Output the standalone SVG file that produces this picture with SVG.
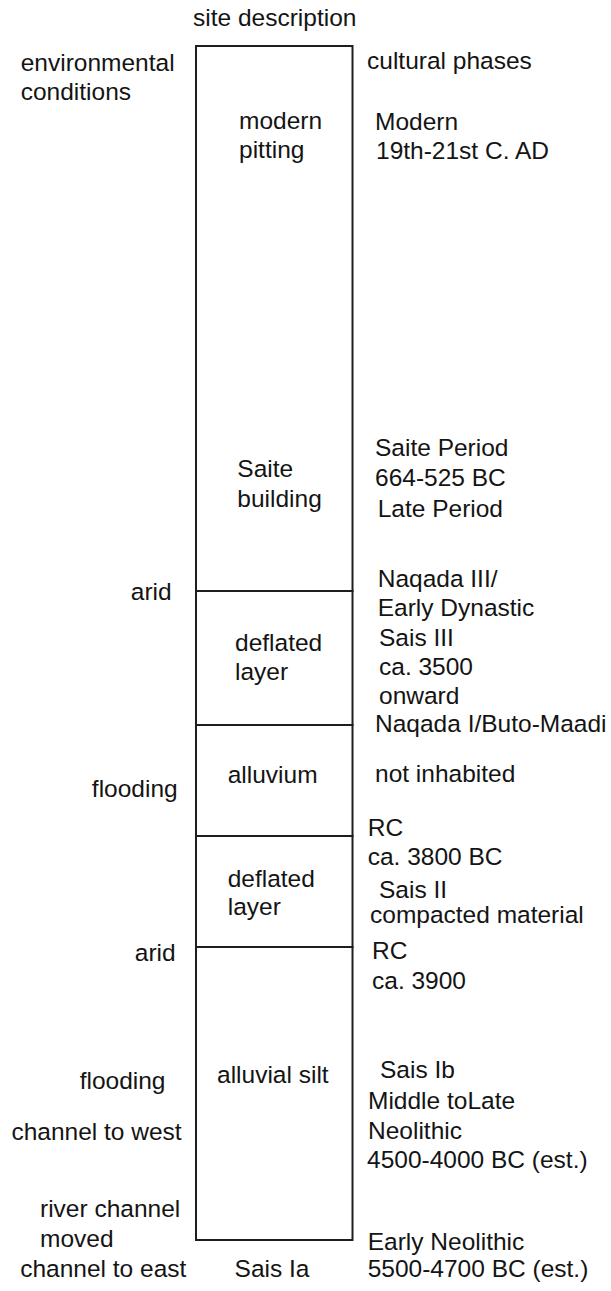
<svg xmlns="http://www.w3.org/2000/svg" width="611" height="1291" viewBox="0 0 611 1291">
<style>
  text { font-family: "Liberation Sans", Arial, Helvetica, sans-serif; font-size: 24.5px; fill: #141414; }
  .layer { fill: none; stroke: #1e1e1e; stroke-width: 2; }
  .end { text-anchor: end; }
</style>
<rect width="611" height="1291" fill="#ffffff"/>
<g id="headers">
  <text x="193" y="26">site description</text>
  <text x="20.7" y="70.7">environmental</text>
  <text x="20.7" y="100">conditions</text>
  <text x="367" y="69">cultural phases</text>
</g>
<g id="layer-modern-saite">
  <rect class="layer" x="196" y="46" width="156.5" height="545"/>
  <text x="239" y="129">modern</text>
  <text x="239" y="158">pitting</text>
  <text x="237.3" y="477">Saite</text>
  <text x="237.3" y="507">building</text>
</g>
<g id="layer-deflated-upper">
  <rect class="layer" x="196" y="591" width="156.5" height="134"/>
  <text x="235" y="650.7">deflated</text>
  <text x="235" y="679.5">layer</text>
</g>
<g id="layer-alluvium">
  <rect class="layer" x="196" y="725" width="156.5" height="111"/>
  <text x="227.7" y="783">alluvium</text>
</g>
<g id="layer-deflated-lower">
  <rect class="layer" x="196" y="836" width="156.5" height="111"/>
  <text x="227.7" y="886.7">deflated</text>
  <text x="227.7" y="915">layer</text>
</g>
<g id="layer-alluvial-silt">
  <rect class="layer" x="196" y="947" width="156.5" height="293"/>
  <text x="217" y="1083">alluvial silt</text>
</g>
<g id="sais-ia">
  <text x="234.6" y="1276.7">Sais Ia</text>
</g>
<g id="environmental-conditions">
  <text class="end" x="171.7" y="600">arid</text>
  <text class="end" x="177.7" y="797">flooding</text>
  <text class="end" x="175.7" y="960.7">arid</text>
  <text class="end" x="165.5" y="1088.5">flooding</text>
  <text class="end" x="181.7" y="1140">channel to west</text>
  <text x="40" y="1216.7">river channel</text>
  <text x="40" y="1246.7">moved</text>
  <text x="20.2" y="1276.7">channel to east</text>
</g>
<g id="cultural-phases">
  <text x="375" y="130">Modern</text>
  <text x="376" y="159">19th-21st C. AD</text>
  <text x="375" y="456">Saite Period</text>
  <text x="375" y="486">664-525 BC</text>
  <text x="377.7" y="516.7">Late Period</text>
  <text x="377.7" y="587.3">Naqada III/</text>
  <text x="377.7" y="616">Early Dynastic</text>
  <text x="379" y="646">Sais III</text>
  <text x="379" y="675">ca. 3500</text>
  <text x="379" y="704">onward</text>
  <text x="375" y="731.7">Naqada I/Buto-Maadi</text>
  <text x="375" y="781.7">not inhabited</text>
  <text x="367.7" y="836">RC</text>
  <text x="367.7" y="865">ca. 3800 BC</text>
  <text x="379" y="898">Sais II</text>
  <text x="370" y="922.7">compacted material</text>
  <text x="372" y="959">RC</text>
  <text x="372" y="988.5">ca. 3900</text>
  <text x="380" y="1078">Sais Ib</text>
  <text x="368" y="1109">Middle toLate</text>
  <text x="368" y="1139">Neolithic</text>
  <text x="367" y="1168">4500-4000 BC (est.)</text>
  <text x="367.7" y="1250">Early Neolithic</text>
  <text x="367.7" y="1276.7">5500-4700 BC (est.)</text>
</g>
<g id="connectors"></g>
</svg>
